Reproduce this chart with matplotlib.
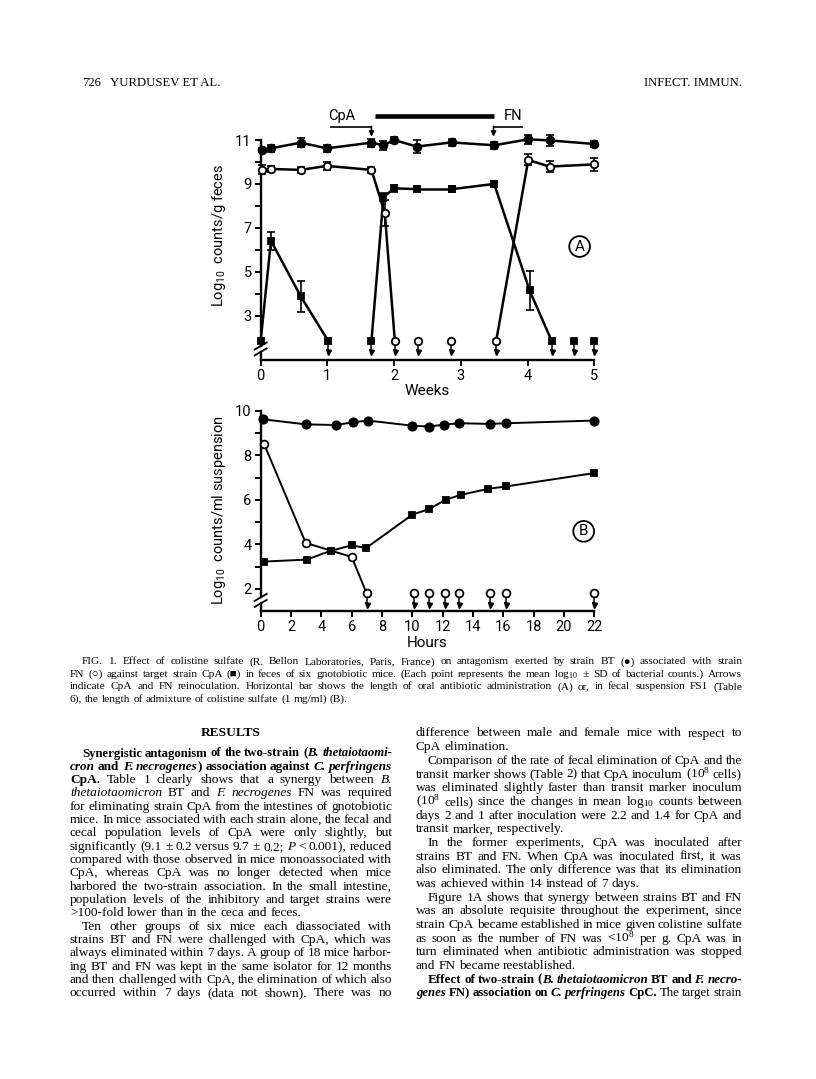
import re
import matplotlib
matplotlib.use("Agg")
import matplotlib.pyplot as plt

W, H = 816, 1079
CHART = ['Roboto', 'DejaVu Sans']
SERIF = ['Liberation Serif', 'DejaVu Serif']

plt.rcParams['mathtext.fontset'] = 'custom'
plt.rcParams['mathtext.rm'] = 'Liberation Serif'
plt.rcParams['mathtext.it'] = 'Liberation Serif:italic'
plt.rcParams['mathtext.bf'] = 'Liberation Serif:bold'
plt.rcParams['mathtext.sf'] = 'Roboto'

# ---------------- panel A : weeks (None = below detection) ----------------
bt_a_x = [0.015, 0.154, 0.6, 0.99, 1.66, 1.84, 2.0, 2.34, 2.86, 3.5, 4.01, 4.33, 5.0]
bt_a_y = [10.55, 10.62, 10.88, 10.62, 10.88, 10.76, 11.0, 10.70, 10.89, 10.76, 11.03, 10.98, 10.82]
bt_a_sd = [0.1, 0.15, 0.2, 0.15, 0.18, 0.2, 0.15, 0.3, 0.15, 0.15, 0.2, 0.25, 0.15]

fn_a_x = [0.015, 0.154, 0.6, 0.99, 1.66, 1.86, 2.01, 2.36, 2.85, 3.53, 4.01, 4.33, 5.0]
fn_a_y = [9.64, 9.68, 9.64, 9.82, 9.64, 7.67, None, None, None, None, 10.09, 9.79, 9.89]
fn_a_sd = [0.2, 0.15, 0.15, 0.2, 0.15, 0.6, 0, 0, 0, 0, 0.25, 0.25, 0.3]

cpa_a_x = [0.0, 0.154, 0.6, 1.01, 1.66, 1.84, 2.0, 2.34, 2.86, 3.5, 4.03, 4.36, 4.69, 5.0]
cpa_a_y = [None, 6.41, 3.88, None, None, 8.40, 8.80, 8.76, 8.76, 9.0, 4.15, None, None, None]
cpa_a_sd = [0, 0.42, 0.72, 0, 0, 0.2, 0.15, 0.15, 0.15, 0.15, 0.9, 0, 0, 0]

# ---------------- panel B : hours ----------------
bt_b_x = [0.13, 2.97, 4.97, 6.07, 7.06, 10.0, 11.1, 12.1, 13.1, 15.1, 16.2, 22.0]
bt_b_y = [9.63, 9.40, 9.37, 9.49, 9.57, 9.34, 9.30, 9.39, 9.45, 9.42, 9.45, 9.57]

fn_b_x = [0.22, 2.97, 6.0, 6.99, 10.1, 11.1, 12.16, 13.1, 15.1, 16.2, 22.0]
fn_b_y = [8.52, 4.07, 3.44, None, None, None, None, None, None, None, None]

cpa_b_x = [0.22, 3.03, 4.64, 6.0, 6.95, 10.0, 11.1, 12.2, 13.2, 15.0, 16.2, 22.0]
cpa_b_y = [3.23, 3.32, 3.72, 3.96, 3.84, 5.34, 5.59, 6.01, 6.23, 6.50, 6.61, 7.21]

weeks_ticks = [0, 1, 2, 3, 4, 5]
hours_ticks = [0, 2, 4, 6, 8, 10, 12, 14, 16, 18, 20, 22]

fig = plt.figure(figsize=(W / 100, H / 100), dpi=100)


def px_axes(left, top, right, bottom):
    return fig.add_axes([left / W, 1 - bottom / H, (right - left) / W, (bottom - top) / H])


def draw_series(ax, xs, ys, sds, marker, ms, fill, dl, lw, alen):
    yy = [dl if v is None else v for v in ys]
    for i in range(len(xs) - 1):
        if ys[i] is None and ys[i + 1] is None:
            continue
        ax.plot(xs[i:i + 2], yy[i:i + 2], color='k', lw=lw, zorder=2, clip_on=False)
    if sds:
        for x, v, s in zip(xs, ys, sds):
            if v is not None and s > 0:
                ax.errorbar([x], [v], yerr=[s], fmt='none', ecolor='k', elinewidth=1.2,
                            capsize=2.6, capthick=1.2, zorder=3, clip_on=False)
    for x, v in zip(xs, ys):
        if v is None and x > 0.05:
            ax.plot([x, x], [dl, dl - alen], color='k', lw=1.1, zorder=3, clip_on=False)
            ax.plot([x], [dl - alen], marker='v', ms=3.6, color='k', zorder=3, clip_on=False)
    ax.plot(xs, yy, ls='none', marker=marker, ms=ms, mfc=fill, mec='k', mew=1.3,
            zorder=4, clip_on=False)


def style_axis(ax, yticks, ylabels_every, xticks, top, ppx, ppy):
    for s in ['top', 'right']:
        ax.spines[s].set_visible(False)
    ax.spines['bottom'].set_linewidth(1.7)
    ax.spines['left'].set_linewidth(1.7)
    ax.spines['left'].set_bounds(1.62, top)
    ax.set_yticks(yticks)
    ax.set_yticklabels([str(t) if (t - yticks[0]) % ylabels_every == 0 else '' for t in yticks])
    ax.set_xticks(xticks)
    ax.set_xticklabels([str(t) for t in xticks])
    ax.tick_params(direction='out', length=4.5, width=1.4, labelsize=10.5, pad=2)
    for lab in ax.get_xticklabels() + ax.get_yticklabels():
        lab.set_family(CHART)
    # axis break
    ax.plot([0, 0], [1.0, 1.35], color='k', lw=1.7, clip_on=False)
    dx = 6 / ppx
    dy = 3.5 / ppy
    for yb in (1.35, 1.62):
        ax.plot([-dx, dx], [yb - dy, yb + dy], color='k', lw=1.3, clip_on=False)


# ---- panel A ----
axA = px_axes(260.7, 140, 594.3, 359.6)
axA.set_xlim(0, 5)
axA.set_ylim(1, 11)
style_axis(axA, list(range(3, 12)), 2, weeks_ticks, 11, 66.72, 21.96)
draw_series(axA, bt_a_x, bt_a_y, bt_a_sd, 'o', 5.6, 'k', 1.86, 1.8, 0.5)
draw_series(axA, fn_a_x, fn_a_y, fn_a_sd, 'o', 5.4, 'white', 1.86, 1.8, 0.5)
draw_series(axA, cpa_a_x, cpa_a_y, cpa_a_sd, 's', 4.8, 'k', 1.86, 1.8, 0.5)
axA.set_xlabel('Weeks', family=CHART, fontsize=11, labelpad=1)

# top annotation: antibiotic bar and reinoculation arrows
axA.plot([1.71, 3.49], [12.09, 12.09], color='k', lw=3.3, solid_capstyle='butt', clip_on=False)
axA.text(1.22, 12.09, 'CpA', ha='center', va='center', family=CHART, fontsize=10.5)
axA.text(3.78, 12.09, 'FN', ha='center', va='center', family=CHART, fontsize=10.5)
axA.plot([1.06, 1.66], [11.6, 11.6], color='k', lw=1.2, clip_on=False)
axA.plot([3.49, 3.91], [11.6, 11.6], color='k', lw=1.2, clip_on=False)
for xa in (1.66, 3.49):
    axA.annotate('', xy=(xa, 11.15), xytext=(xa, 11.62), annotation_clip=False,
                 arrowprops=dict(arrowstyle='-|>', lw=1.2, color='k', mutation_scale=7,
                                 shrinkA=0, shrinkB=0))
axA.text(4.78, 6.15, 'A', ha='center', va='center', family=CHART, fontsize=11,
         bbox=dict(boxstyle='circle,pad=0.22', fc='white', ec='k', lw=1.3))

# ---- panel B ----
axB = px_axes(260.7, 411, 594.3, 611.2)
axB.set_xlim(0, 22)
axB.set_ylim(1, 10)
style_axis(axB, list(range(2, 11)), 2, hours_ticks, 10, 15.16, 22.25)
draw_series(axB, bt_b_x, bt_b_y, None, 'o', 6.0, 'k', 1.8, 1.4, 0.5)
draw_series(axB, fn_b_x, fn_b_y, None, 'o', 5.6, 'white', 1.8, 1.4, 0.5)
draw_series(axB, cpa_b_x, cpa_b_y, None, 's', 5.0, 'k', 1.8, 1.4, 0.5)
axB.set_xlabel('Hours', family=CHART, fontsize=11, labelpad=1)
axB.text(21.3, 4.59, 'B', ha='center', va='center', family=CHART, fontsize=11,
         bbox=dict(boxstyle='circle,pad=0.22', fc='white', ec='k', lw=1.3))

fig.text(219 / W, 1 - 235 / H, r'Log$_{\mathsf{10}}$  counts/g feces', rotation=90,
         ha='center', va='center', family=CHART, fontsize=10.5)
fig.text(219 / W, 1 - 510 / H, r'Log$_{\mathsf{10}}$  counts/ml suspension', rotation=90,
         ha='center', va='center', family=CHART, fontsize=10.5)

# ---------------- page text ----------------
header_left = '726'
header_mid = 'YURDUSEV ET AL.'
header_right = 'INFECT. IMMUN.'

caption = [
    'FIG. 1. Effect of colistine sulfate (R. Bellon Laboratories, Paris, France) on antagonism exerted by strain BT (●) associated with strain',
    'FN (○) against target strain CpA (■) in feces of six gnotobiotic mice. (Each point represents the mean log$_{10}$ ± SD of bacterial counts.) Arrows',
    'indicate CpA and FN reinoculation. Horizontal bar shows the length of oral antibiotic administration (A) or, in fecal suspension FS1 (Table',
    '6), the length of admixture of colistine sulfate (1 mg/ml) (B).',
]

left_col = [
    '[b]Synergistic antagonism of the two-strain ([bi]B. thetaiotaomi-',
    '[bi]cron[b] and [bi]F. necrogenes[b]) association against [bi]C. perfringens',
    '[b]CpA.[n] Table 1 clearly shows that a synergy between [i]B.',
    '[i]thetaiotaomicron[n] BT and [i]F. necrogenes[n] FN was required',
    'for eliminating strain CpA from the intestines of gnotobiotic',
    'mice. In mice associated with each strain alone, the fecal and',
    'cecal population levels of CpA were only slightly, but',
    'significantly (9.1 ± 0.2 versus 9.7 ± 0.2; [i]P[n] < 0.001), reduced',
    'compared with those observed in mice monoassociated with',
    'CpA, whereas CpA was no longer detected when mice',
    'harbored the two-strain association. In the small intestine,',
    'population levels of the inhibitory and target strains were',
    '>100-fold lower than in the ceca and feces.',
    'Ten other groups of six mice each diassociated with',
    'strains BT and FN were challenged with CpA, which was',
    'always eliminated within 7 days. A group of 18 mice harbor-',
    'ing BT and FN was kept in the same isolator for 12 months',
    'and then challenged with CpA, the elimination of which also',
    'occurred within 7 days (data not shown). There was no',
]
left_indent = [0, 13]
left_last = [12]

right_col = [
    'difference between male and female mice with respect to',
    'CpA elimination.',
    'Comparison of the rate of fecal elimination of CpA and the',
    'transit marker shows (Table 2) that CpA inoculum (10$^8$ cells)',
    'was eliminated slightly faster than transit marker inoculum',
    '(10$^8$ cells) since the changes in mean log$_{10}$ counts between',
    'days 2 and 1 after inoculation were 2.2 and 1.4 for CpA and',
    'transit marker, respectively.',
    'In the former experiments, CpA was inoculated after',
    'strains BT and FN. When CpA was inoculated first, it was',
    'also eliminated. The only difference was that its elimination',
    'was achieved within 14 instead of 7 days.',
    'Figure 1A shows that synergy between strains BT and FN',
    'was an absolute requisite throughout the experiment, since',
    'strain CpA became established in mice given colistine sulfate',
    'as soon as the number of FN was <10$^8$ per g. CpA was in',
    'turn eliminated when antibiotic administration was stopped',
    'and FN became reestablished.',
    '[b]Effect of two-strain ([bi]B. thetaiotaomicron[b] BT and [bi]F. necro-',
    '[bi]genes[b] FN) association on [bi]C. perfringens[b] CpC.[n] The target strain',
]
right_indent = [2, 8, 12, 18]
right_last = [1, 7, 11, 17]

STYLES = {'n': {}, 'b': {'weight': 'bold'}, 'i': {'style': 'italic'},
          'bi': {'weight': 'bold', 'style': 'italic'}}

renderer = fig.canvas.get_renderer()


def put_line(line, x0, x1, y, size, justify, indent=0.0, min_gap=2.6):
    parts = re.split(r'\[(n|b|i|bi)\]', line)
    style = 'n'
    groups = [[]]
    for k, p in enumerate(parts):
        if k % 2 == 1:
            style = p
            continue
        for j, w in enumerate(p.split(' ')):
            if j > 0 and groups[-1]:
                groups.append([])
            if w:
                groups[-1].append((w, style))
    if not groups[-1]:
        groups.pop()
    texts = [[fig.text(0, 0, w, fontsize=size, family=SERIF, va='baseline', ha='left', **STYLES[st])
              for w, st in g] for g in groups]

    def measure():
        return [[t.get_window_extent(renderer).width for t in g] for g in texts]

    widths = measure()
    total = sum(sum(g) for g in widths)
    start = x0 + indent
    avail = x1 - start
    n = len(texts)
    if justify and n > 1 and total + (n - 1) * min_gap > avail:
        new = size * (avail - (n - 1) * min_gap) / total
        for g in texts:
            for t in g:
                t.set_fontsize(new)
        widths = measure()
        total = sum(sum(g) for g in widths)
    if justify and n > 1:
        gap = (avail - total) / (n - 1)
    else:
        gap = size * 0.25 * 100 / 72
    x = start
    for g, gw in zip(texts, widths):
        for t, wd in zip(g, gw):
            t.set_position((x / W, 1 - y / H))
            x += wd
        x += gap


hs = 9.2
fig.text(82 / W, 1 - 86 / H, header_left, fontsize=hs, family=SERIF, va='baseline')
fig.text(110 / W, 1 - 86 / H, header_mid, fontsize=hs, family=SERIF, va='baseline')
fig.text(742 / W, 1 - 86 / H, header_right, fontsize=hs, family=SERIF, va='baseline', ha='right')

for i, line in enumerate(caption):
    put_line(line, 70, 742, 664.5 + 12.4 * i, 8.2, i < len(caption) - 1, 12 if i == 0 else 0)

fig.text(231 / W, 1 - 736.5 / H, 'RESULTS', fontsize=9.6, family=SERIF, weight='bold',
         ha='center', va='baseline')
for i, line in enumerate(left_col):
    put_line(line, 70, 392, 756.5 + 13.33 * i, 9.6, i not in left_last, 12 if i in left_indent else 0)
for i, line in enumerate(right_col):
    put_line(line, 416, 742, 736.5 + 13.68 * i, 9.6, i not in right_last, 12 if i in right_indent else 0)

fig.savefig('out.png', dpi=100)
